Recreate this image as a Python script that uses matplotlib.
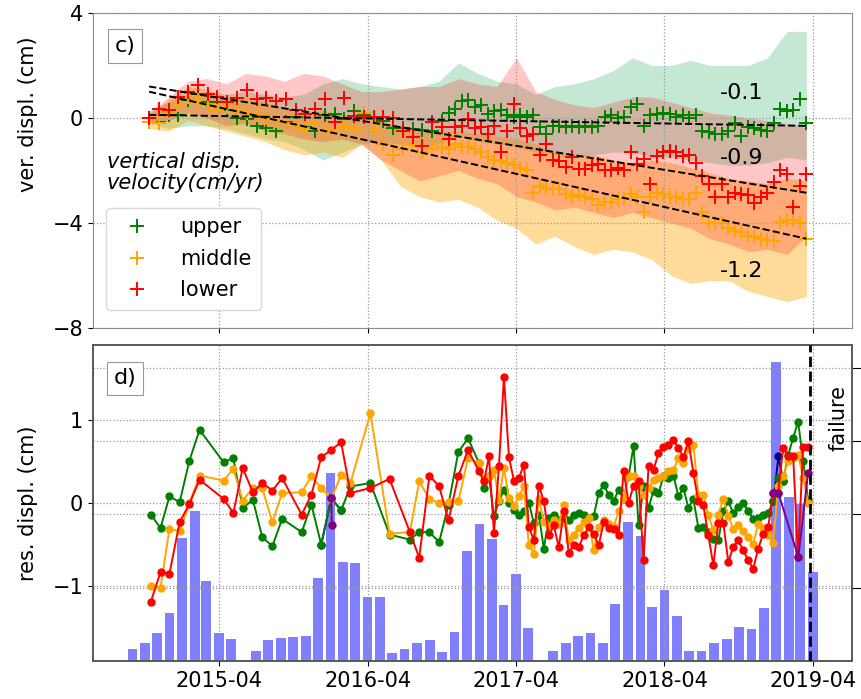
import numpy as np
import pandas as pd
import matplotlib
matplotlib.use('Agg')
import matplotlib.pyplot as plt
import matplotlib.dates as mdates

plt.rcParams['font.size'] = 15

# ---------------- panel c) vertical displacement (cm) ----------------
# acquisitions: ~24 days apart until autumn 2016, ~16 days afterwards
disp_dates = pd.date_range('2014-10-12', periods=31, freq='24D').append(
    pd.date_range('2016-10-17', periods=56, freq='16D'))

upper_disp = [0.0, -0.15, 0.1, 0.1, 0.7, 0.9, 0.6, 0.6, 0.3, 0.0,
              -0.05, -0.3, -0.4, -0.5, -0.15, 0.05, -0.35, -0.5, 0.1, 0.15,
              -0.05, 0.25, 0.1, 0.05, -0.1, -0.4, -0.4, -0.42, -0.45, -0.5, -0.1,
              0.2, 0.35, 0.65, 0.7, 0.4, 0.5, 0.15, 0.25, 0.3, 0.1,
              0.05, 0.1, 0.05, 0.1, -0.35, -0.6, -0.3, -0.3, -0.35, -0.3,
              -0.35, -0.3, -0.35, -0.3, 0.05, 0.1, 0.0, 0.05, 0.4, 0.55,
              -0.3, 0.1, 0.15, 0.2, 0.15, 0.05, 0.1, 0.0, 0.1, -0.5,
              -0.55, -0.6, -0.6, -0.5, -0.2, -0.7, -0.35, -0.4, -0.45, -0.5,
              -0.2, 0.35, 0.25, 0.3, 0.73, -0.2]
middle_disp = [-0.15, -0.2, 0.2, 0.5, 0.8, 0.7, 0.5, 0.3, 0.4, 0.3,
               0.2, 0.1, 0.0, -0.1, -0.2, -0.3, -0.4, -0.2, -0.5, -0.4,
               -0.35, -0.4, 0.2, -0.5, -1.0, -1.4, -1.2, -1.0, -1.3, -1.2, -1.1,
               -1.2, -1.0, -1.1, -1.1, -1.2, -1.3, -1.5, -1.6, -1.65, -1.7,
               -1.8, -1.9, -2.0, -2.85, -2.6, -2.65, -2.7, -2.7, -2.9, -3.0,
               -2.95, -3.0, -3.1, -3.3, -3.2, -3.2, -3.1, -3.1, -2.9, -3.0,
               -3.6, -3.0, -2.85, -2.9, -3.0, -3.0, -3.1, -3.1, -2.85, -3.6,
               -4.0, -4.0, -4.0, -4.2, -4.3, -4.35, -4.5, -4.55, -4.6, -4.65,
               -4.7, -3.95, -3.9, -3.9, -4.0, -4.6]
lower_disp = [0.0, 0.35, 0.3, 0.8, 1.0, 1.25, 0.9, 0.8, 0.6, 0.75,
              1.05, 0.73, 0.75, 0.65, 0.73, 0.3, 0.15, 0.35, 0.73, -0.15,
              0.77, 0.08, 0.05, 0.04, 0.04, 0.0, -0.5, -0.73, -1.07, -0.15, -0.35,
              -0.8, -0.35, -0.3, -0.05, -0.4, -0.35, -0.6, -0.3, -1.3, -0.5,
              0.55, -0.4, -0.7, -0.6, -1.4, -1.0, -1.6, -1.65, -1.85, -1.5,
              -1.95, -1.95, -1.8, -1.75, -2.0, -2.0, -1.9, -2.0, -1.3, -1.75,
              -1.55, -2.5, -1.45, -1.3, -1.25, -1.3, -1.45, -1.4, -1.7, -2.2,
              -2.5, -3.0, -2.5, -3.0, -2.85, -2.9, -2.95, -3.25, -3.0, -2.85,
              -2.45, -2.0, -2.15, -3.4, -2.6, -2.15]

# spread of the pixels in each zone (shaded bands)
band_dates = pd.date_range('2014-10-12', '2019-03-16', periods=35)
upper_hi = [0.3, 0.6, 0.9, 1.0, 0.9, 1.0, 0.9, 0.8, 0.9, 1.3, 1.5, 1.3, 1.2, 1.1, 1.2, 1.4, 2.1, 1.7,
            1.4, 1.3, 0.9, 1.2, 1.3, 1.5, 1.8, 2.3, 2.0, 2.0, 2.2, 2.0, 2.0, 2.0, 2.3, 3.3, 3.3]
upper_lo = [-0.2, -0.4, -0.3, -0.3, -0.4, -0.6, -0.8, -0.9, -1.2, -1.6, -1.3, -1.0, -0.9, -1.0, -1.1, -1.0,
            -0.7, -0.9, -1.0, -1.1, -1.3, -1.4, -1.5, -1.4, -1.3, -1.3, -1.5, -1.5, -1.6, -1.7, -1.8, -1.8,
            -1.7, -1.5, -1.6]
middle_hi = [0.1, 0.7, 1.2, 1.1, 0.8, 0.8, 0.6, 0.4, 0.2, 0.3, 0.1, 0.0, -0.1, -0.4, -0.4, -0.5, -0.5,
             -0.6, -0.7, -0.8, -1.0, -1.3, -1.4, -1.4, -1.6, -1.7, -1.6, -1.7, -1.9, -2.1, -2.3, -2.4,
             -2.5, -2.3, -2.4]
middle_lo = [-0.4, -0.5, -0.1, -0.3, -0.5, -0.7, -0.9, -1.2, -1.4, -1.3, -1.5, -1.0, -1.6, -2.6, -3.0,
             -3.2, -3.1, -3.4, -3.9, -4.2, -4.8, -4.5, -4.9, -5.2, -5.0, -5.1, -5.4, -6.0, -6.3, -6.2,
             -6.2, -6.6, -6.8, -7.0, -6.8]
lower_hi = [0.2, 0.8, 1.4, 1.5, 1.3, 1.7, 1.6, 1.4, 1.7, 1.6, 1.3, 1.0, 1.0, 1.1, 1.2, 1.2, 1.5, 1.3,
            1.2, 2.3, 1.0, 0.7, 0.5, 0.4, 0.6, 0.8, 0.8, 0.6, 0.4, 0.2, 0.1, 0.0, -0.1, -0.2, -0.3]
lower_lo = [-0.2, -0.1, 0.2, 0.0, -0.3, -0.2, -0.5, -0.6, -0.8, -0.9, -0.8, -1.0, -1.6, -2.0, -2.4, -2.2,
            -2.0, -2.3, -2.5, -3.0, -3.2, -3.5, -3.4, -3.6, -3.8, -3.6, -3.8, -4.0, -4.2, -4.6, -4.8,
            -5.1, -5.0, -5.2, -4.5]

# linear trends (start / end value) and velocities in cm/yr
trend_dates = pd.to_datetime(['2014-10-12', '2019-03-16'])
upper_trend = [0.12, -0.3]
middle_trend = [1.0, -4.6]
lower_trend = [1.2, -2.85]
velocities = ['-0.1', '-0.9', '-1.2']

# ---------------- panel d) residual displacement (cm) + precipitation ----------------
res_dates = pd.to_datetime([
    '2014-10-16', '2014-11-09', '2014-12-01', '2014-12-26', '2015-01-19', '2015-02-13',
    '2015-04-13', '2015-05-07', '2015-05-30', '2015-06-24', '2015-07-17', '2015-08-11',
    '2015-09-04', '2015-10-22', '2015-11-15', '2015-12-09', '2016-01-03', '2016-01-27',
    '2016-02-19', '2016-04-08', '2016-05-25', '2016-07-14', '2016-08-06', '2016-08-31',
    '2016-09-24', '2016-10-17', '2016-11-10', '2016-12-04']).append(
    pd.date_range('2016-12-31', '2019-03-20', periods=67))

upper_res = [-0.14, -0.30, 0.08, 0.01, 0.51, 0.88, 0.49, 0.54, -0.06, 0.04, -0.41, -0.52, -0.19, -0.35,
             -0.02, -0.50, 0.06, -0.09, 0.20, 0.24, -0.38, -0.44, -0.35, -0.35, -0.47, -0.02, 0.61, 0.78,
             0.48, 0.18, 0.32, -0.16, 0.02, 0.16, 0.00, -0.08, -0.15, -0.10,
             0.00, -0.24, -0.14, -0.55, -0.18, -0.15, -0.21, -0.18, -0.20, -0.15,
             -0.12, -0.15, -0.18, -0.16, 0.12, 0.22, 0.10, 0.02, 0.16, 0.05,
             0.32, 0.69, -0.27, 0.20, -0.06, 0.15, 0.12, 0.32, 0.30, 0.33,
             0.08, 0.18, -0.06, 0.05, -0.30, -0.29, -0.35, -0.43, -0.45, -0.10,
             0.02, -0.12, -0.05, 0.00, -0.10, -0.19, -0.18, -0.15, -0.12, 0.02,
             0.30, 0.26, 0.58, 0.78, 0.98, 0.51, 0.04]
middle_res = [-1.00, -1.02, -0.31, -0.34, 0.00, 0.33, 0.27, 0.41, 0.03, 0.18, 0.18, -0.23, 0.12, 0.13,
              0.32, 0.18, 0.05, 0.34, 0.24, 1.08, -0.37, -0.35, 0.26, 0.05, 0.00, 0.01, 0.02, 0.54,
              0.48, 0.28, 0.33, 0.40, 0.04, 0.42, 0.06, -0.04, 0.08, 0.20,
              -0.51, -0.61, 0.05, -0.23, -0.29, -0.20, -0.25, -0.02, -0.45, -0.38,
              -0.30, -0.23, -0.18, -0.57, -0.29, -0.20, -0.25, -0.29, -0.10, 0.05,
              0.32, 0.32, 0.20, 0.10, 0.18, 0.28, 0.30, 0.32, 0.38, 0.40,
              0.54, 0.48, 0.65, 0.70, 0.10, 0.10, -0.15, -0.33, -0.14, 0.05,
              -0.16, -0.31, -0.27, -0.34, -0.41, -0.49, -0.25, -0.30, -0.39, -0.48,
              0.20, 0.32, 0.50, 0.54, 0.58, 0.30, 0.00]
lower_res = [-1.19, -0.83, -0.85, -0.23, -0.01, 0.28, 0.05, -0.12, 0.42, 0.13, 0.24, 0.15, 0.30, -0.14,
             0.10, 0.55, 0.64, 0.73, 0.12, 0.18, 0.29, -0.35, -0.66, 0.33, 0.20, -0.21, 0.32, 0.64,
             0.38, 0.26, 0.56, -0.36, 0.44, 1.52, 0.55, 0.27, 0.30, 0.46,
             -0.29, -0.45, 0.21, 0.02, -0.39, -0.27, -0.53, -0.10, -0.60, -0.50,
             -0.53, -0.39, -0.29, -0.37, -0.51, -0.23, -0.30, -0.31, -0.39, 0.39,
             0.00, 0.21, 0.27, -0.69, 0.44, 0.40, 0.60, 0.67, 0.70, 0.76,
             0.66, 0.55, 0.74, 0.36, 0.02, -0.03, -0.39, -0.75, -0.24, -0.24,
             -0.71, -0.53, -0.45, -0.57, -0.69, -0.79, -0.55, -0.37, -0.29, 0.12,
             0.12, 0.66, 0.57, 0.57, -0.65, 0.67, 0.67]

# two further point sets that only show where they leave the others
navy_dates = pd.to_datetime(['2015-12-09', '2016-01-03', '2016-01-27', '2016-02-10',
                             '2018-12-25', '2019-01-06', '2019-01-18'])
navy_res = [-0.50, 0.06, -0.09, np.nan, 0.02, 0.56, 0.26]
purple_dates = pd.to_datetime(['2016-01-03', '2016-01-04', '2016-02-10',
                               '2018-12-25', '2019-01-06', '2019-02-24', '2019-03-20'])
purple_res = [0.06, -0.26, np.nan, 0.12, 0.12, -0.65, 0.36]

# monthly precipitation (mm), right axis
rain_months = pd.date_range('2014-09-01', periods=56, freq='MS')
rain_mm = [16, 24, 38, 66, 168, 205, 109, 38, 30, 0, 14, 29, 32, 33, 34, 113, 256, 135, 133, 87,
           87, 11, 17, 24, 29, 12, 39, 150, 187, 166, 76, 118, 45, 0, 13, 24, 34, 38, 25, 78,
           189, 171, 74, 97, 62, 14, 13, 24, 30, 47, 44, 72, 408, 224, 214, 121]

failure_date = pd.Timestamp('2019-03-25')

# ---------------- figure ----------------
fig = plt.figure(figsize=(8.62, 6.99), dpi=100)
ax1 = fig.add_axes([0.1079, 0.5308, 0.8805, 0.4506])
ax2 = fig.add_axes([0.1079, 0.0544, 0.8805, 0.452], sharex=ax1)

colors = {'upper': 'green', 'middle': 'orange', 'lower': 'red'}
grid_kw = dict(color='0.6', linestyle=':', linewidth=0.9)

ax1.fill_between(band_dates, upper_lo, upper_hi, color='mediumseagreen', alpha=0.3, lw=0)
ax1.fill_between(band_dates, middle_lo, middle_hi, color='orange', alpha=0.4, lw=0)
ax1.fill_between(band_dates, lower_lo, lower_hi, color='red', alpha=0.22, lw=0)

ax1.plot(disp_dates, upper_disp, '+', color=colors['upper'], ms=10, mew=1.4, label='upper', zorder=3)
ax1.plot(disp_dates, middle_disp, '+', color=colors['middle'], ms=10, mew=1.4, label='middle', zorder=3)
ax1.plot(disp_dates, lower_disp, '+', color=colors['lower'], ms=10, mew=1.4, label='lower', zorder=3)

for tr in (upper_trend, middle_trend, lower_trend):
    ax1.plot(trend_dates, tr, '--', color='black', lw=1.4, zorder=4)

for label, ypos in zip(velocities, [0.745, 0.54, 0.18]):
    ax1.text(0.855, ypos, label, transform=ax1.transAxes, ha='center', va='center', fontsize=16)

ax1.text(0.018, 0.56, 'vertical disp.\nvelocity(cm/yr)', transform=ax1.transAxes,
         ha='left', va='top', fontsize=15, style='italic', linespacing=1.1)
leg = ax1.legend(loc='lower left', bbox_to_anchor=(0.004, 0.025), fontsize=15,
                 handletextpad=1.1, labelspacing=0.55, borderpad=0.45, handlelength=2.0,
                 framealpha=1, edgecolor='0.85', fancybox=True)

ax1.text(0.042, 0.895, 'c)', transform=ax1.transAxes, ha='center', va='center', fontsize=16,
         bbox=dict(boxstyle='square,pad=0.3', fc='white', ec='0.6', lw=0.8))

ax1.set_ylim(-8, 4)
ax1.set_yticks([4, 0, -4, -8])
ax1.set_ylabel('ver. displ. (cm)')
ax1.yaxis.set_label_coords(-0.072, 0.68)
ax1.grid(True, **grid_kw)
ax1.tick_params(labelbottom=False)
for sp in ax1.spines.values():
    sp.set_color('0.55')

# bottom panel: precipitation bars on a twin axis behind the residual lines
ax2r = ax2.twinx()
ax2r.bar(rain_months, rain_mm, width=24, color='blue', alpha=0.5, lw=0)
ax2r.set_ylim(0, 431)
ax2r.set_yticks([100, 200, 300, 400])
ax2r.tick_params(axis='y', length=8, labelright=False)
ax2r.grid(True, axis='y', **grid_kw)
ax2.set_zorder(ax2r.get_zorder() + 1)
ax2.patch.set_visible(False)

ax2.plot(navy_dates, navy_res, '-o', color='navy', ms=5, lw=1.4, zorder=2)
ax2.plot(res_dates, upper_res, '-o', color=colors['upper'], ms=5, lw=1.4, zorder=3)
ax2.plot(res_dates, middle_res, '-o', color=colors['middle'], ms=5, lw=1.4, zorder=3)
ax2.plot(res_dates, lower_res, '-o', color=colors['lower'], ms=5, lw=1.4, zorder=3)
ax2.plot(purple_dates, purple_res, '-o', color='purple', ms=5, lw=1.4, zorder=4)

ax2.axvline(failure_date, color='black', linestyle='--', lw=2, zorder=5)
ax2.text(0.982, 0.77, 'failure', transform=ax2.transAxes, rotation=90,
         ha='center', va='center', fontsize=15)
ax2.text(0.042, 0.895, 'd)', transform=ax2.transAxes, ha='center', va='center', fontsize=16,
         bbox=dict(boxstyle='square,pad=0.3', fc='white', ec='0.6', lw=0.8))

ax2.set_ylim(-1.9, 1.9)
ax2.set_yticks([1, 0, -1])
ax2.set_ylabel('res. displ. (cm)')
ax2.yaxis.set_label_coords(-0.072, 0.5)
ax2.grid(True, **grid_kw)
for sp in list(ax2.spines.values()) + list(ax2r.spines.values()):
    sp.set_color('0.35')
    sp.set_linewidth(1.2)

ax2.set_xlim(pd.Timestamp('2014-05-27'), pd.Timestamp('2019-07-06'))
ax2.xaxis.set_major_locator(mdates.MonthLocator(bymonth=4, bymonthday=1))
ax2.xaxis.set_major_formatter(mdates.DateFormatter('%Y-%m'))

fig.savefig('out.png', dpi=100)
